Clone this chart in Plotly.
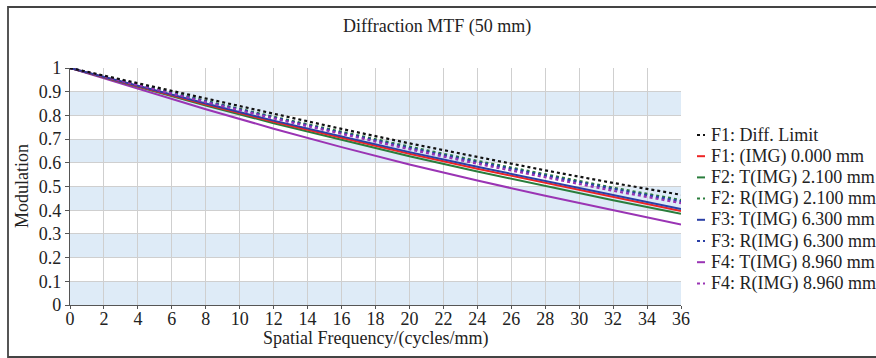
import plotly.graph_objects as go

# ---- data ----
freq = [0, 4, 8, 12, 16, 20, 24, 28, 32, 36]
diff_limit = [1.0, 0.935, 0.870, 0.806, 0.743, 0.682, 0.624, 0.568, 0.515, 0.465]
f1_img = [1.0, 0.922, 0.846, 0.773, 0.704, 0.638, 0.575, 0.515, 0.455, 0.397]
f2_t = [1.0, 0.920, 0.842, 0.767, 0.696, 0.628, 0.563, 0.501, 0.442, 0.385]
f2_r = [1.0, 0.930, 0.861, 0.794, 0.730, 0.668, 0.608, 0.550, 0.495, 0.443]
f3_t = [1.0, 0.924, 0.850, 0.778, 0.710, 0.645, 0.583, 0.523, 0.464, 0.405]
f3_r = [1.0, 0.929, 0.859, 0.791, 0.726, 0.663, 0.603, 0.545, 0.490, 0.437]
f4_t = [1.0, 0.912, 0.826, 0.744, 0.666, 0.593, 0.525, 0.461, 0.400, 0.340]
f4_r = [1.0, 0.927, 0.856, 0.787, 0.721, 0.657, 0.596, 0.538, 0.482, 0.430]

names = ["F1: Diff. Limit", "F1: (IMG) 0.000 mm", "F2: T(IMG) 2.100 mm",
         "F2: R(IMG) 2.100 mm", "F3: T(IMG) 6.300 mm", "F3: R(IMG) 6.300 mm",
         "F4: T(IMG) 8.960 mm", "F4: R(IMG) 8.960 mm"]
series = [diff_limit, f1_img, f2_t, f2_r, f3_t, f3_r, f4_t, f4_r]
colors = ["#111111", "#ee2424", "#2a7d3c", "#2a7d3c", "#2b3fa6", "#2b3fa6", "#9a34b4", "#9a34b4"]
dashes = ["dot", "solid", "solid", "dot", "solid", "dot", "solid", "dot"]

xticks = list(range(0, 37, 2))
yticks = [round(i * 0.1, 1) for i in range(11)]
ytick_text = ["0"] + [f"{v:.1f}" for v in yticks[1:-1]] + ["1"]

FONT = "Liberation Serif, Times New Roman, serif"
FS = 18
W, H = 876, 358
L, R, T, B = 70, 195, 68, 53
PW, PH = W - L - R, H - T - B

def px(xp):
    return (xp - L) / PW

def py(yp):
    return (H - B - yp) / PH

fig = go.Figure()
order = [6, 2, 1, 4, 3, 5, 7, 0]
for i in order:
    fig.add_trace(go.Scatter(
        x=freq, y=series[i], mode="lines", name=names[i],
        line=dict(color=colors[i], dash=dashes[i], width=2 if dashes[i] == "solid" else 2.2),
        showlegend=False, hoverinfo="skip"))

shapes = []
shapes.append(dict(type="rect", xref="paper", yref="paper",
                   x0=px(8), x1=px(878), y0=py(357), y1=py(7),
                   line=dict(color="#444444", width=1.8), fillcolor="rgba(0,0,0,0)", layer="below"))
for k in range(0, 10, 2):
    shapes.append(dict(type="rect", xref="paper", yref="y",
                       x0=0, x1=1, y0=yticks[k], y1=yticks[k + 1],
                       line=dict(width=0), fillcolor="#deebf7", layer="below"))

annotations = []
row0, step = 135, 21.2
for j, nm in enumerate(names):
    yy = py(row0 + step * j)
    shapes.append(dict(type="line", xref="paper", yref="paper",
                       x0=px(697), x1=px(705), y0=yy, y1=yy,
                       line=dict(color=colors[j], width=2, dash="dot" if dashes[j] == "dot" else "solid")))
    annotations.append(dict(xref="paper", yref="paper", x=px(709), y=yy, text=nm,
                            showarrow=False, xanchor="left", yanchor="middle",
                            font=dict(family=FONT, size=FS, color="#222222")))

annotations.append(dict(xref="paper", yref="paper", x=px(22), y=py(186), text="Modulation",
                        textangle=-90, showarrow=False, xanchor="center", yanchor="middle",
                        font=dict(family=FONT, size=FS, color="#222222")))
annotations.append(dict(xref="paper", yref="paper", x=0.5, y=py(338), text="Spatial Frequency/(cycles/mm)",
                        showarrow=False, xanchor="center", yanchor="middle",
                        font=dict(family=FONT, size=FS, color="#222222")))
annotations.append(dict(xref="paper", yref="paper", x=px(437), y=py(27), text="Diffraction MTF (50 mm)",
                        showarrow=False, xanchor="center", yanchor="middle",
                        font=dict(family=FONT, size=FS, color="#222222")))

fig.update_layout(
    width=W, height=H, margin=dict(l=L, r=R, t=T, b=B, pad=0),
    paper_bgcolor="white", plot_bgcolor="white",
    shapes=shapes, annotations=annotations, showlegend=False,
    font=dict(family=FONT, size=FS, color="#222222"),
)
fig.update_xaxes(range=[0, 36], tickvals=xticks, ticktext=[str(v) for v in xticks],
                 showgrid=True, gridcolor="#cfcfcf", gridwidth=1,
                 showline=True, linecolor="#555555", linewidth=1.2,
                 ticks="outside", ticklen=3, tickcolor="#555555",
                 ticklabelstandoff=-6,
                 zeroline=False, tickfont=dict(family=FONT, size=FS, color="#222222"))
fig.update_yaxes(range=[0, 1], tickvals=yticks, ticktext=ytick_text,
                 showgrid=True, gridcolor="#cfcfcf", gridwidth=1,
                 showline=True, linecolor="#555555", linewidth=1.2,
                 ticks="outside", ticklen=4, tickcolor="#555555",
                 zeroline=False, tickfont=dict(family=FONT, size=FS, color="#222222"))

fig.write_html("out.html")
